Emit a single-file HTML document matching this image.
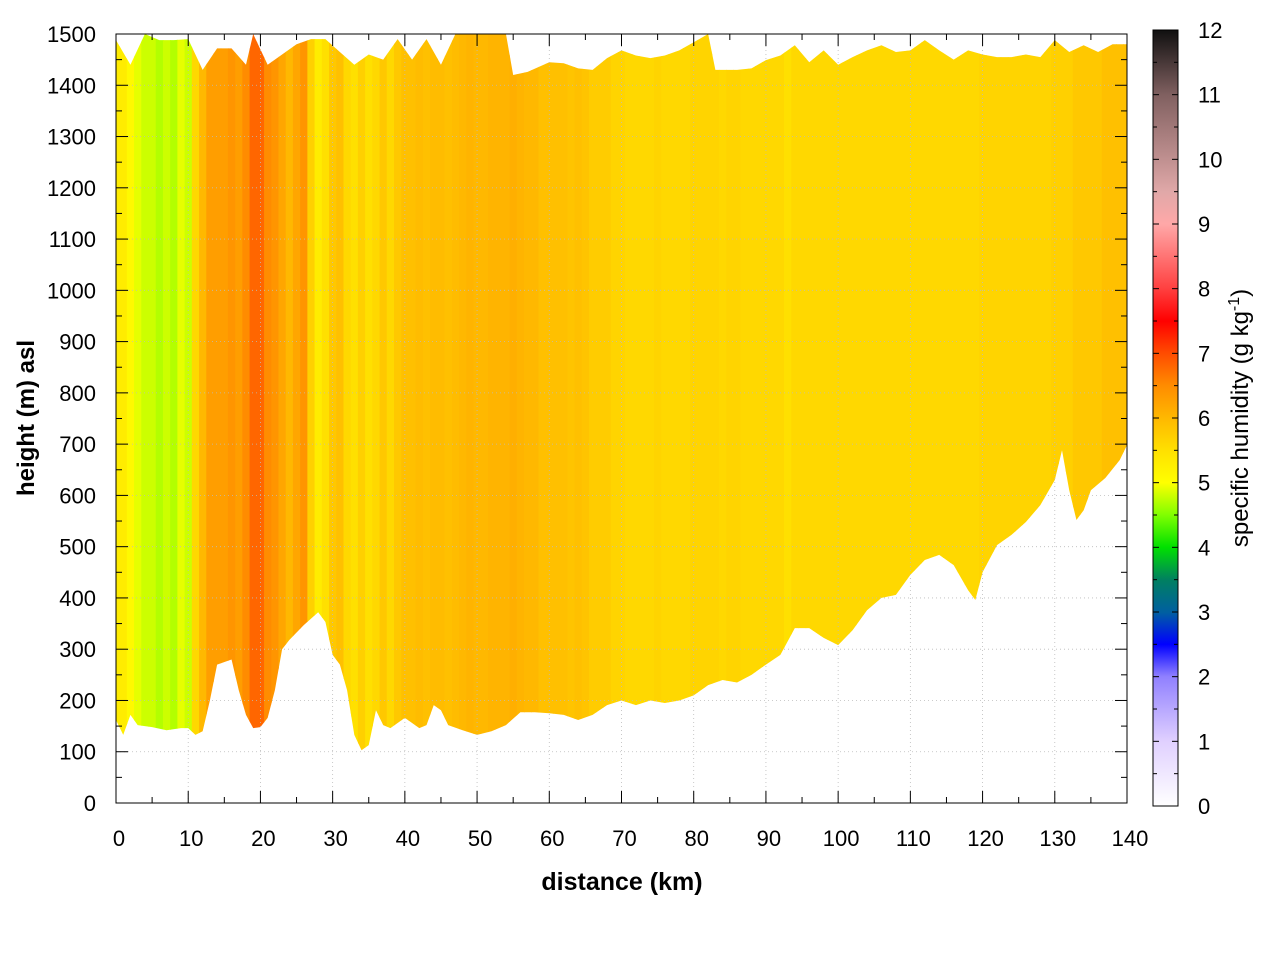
<!DOCTYPE html>
<html><head><meta charset="utf-8"><style>
body{margin:0;background:#fff;font-family:"Liberation Sans",sans-serif}
svg text{font-family:"Liberation Sans",sans-serif}
</style></head><body>
<svg id="chart" width="1280" height="960" xmlns="http://www.w3.org/2000/svg">
<defs>
<clipPath id="dataclip"><polygon id="clipPoly" points=""/></clipPath>
<linearGradient id="cbgrad" x1="0" y1="1" x2="0" y2="0"></linearGradient>
</defs>
<g id="cols" clip-path="url(#dataclip)"></g>
<g id="grid"></g>
<g id="axes"></g>
<text x="622" y="890" text-anchor="middle" font-size="25" font-weight="bold">distance (km)</text>
<text transform="translate(34,418) rotate(-90)" text-anchor="middle" font-size="24" font-weight="bold">height (m) asl</text>
<rect x="1153" y="30" width="25" height="776" fill="url(#cbgrad)" stroke="#000" stroke-width="1"/>
<g id="cbticks"></g>
<text transform="translate(1248,418) rotate(-90)" text-anchor="middle" font-size="24">specific humidity (g kg<tspan dy="-9" font-size="16">-1</tspan><tspan dy="9">)</tspan></text>
</svg>
<script>
// distance (km) of each column and its humidity value (g/kg)
const colDist = [];for(let i=0;i<=140;i++)colDist.push(i);
const colValue = [5.3,5.3,5.1,4.9,4.8,4.8,4.7,4.8,4.7,4.9,4.8,5.6,6.0,6.3,6.3,6.3,6.4,6.3,6.5,6.8,6.8,6.5,6.4,6.2,6.0,6.2,6.4,5.7,5.3,5.5,
5.8,5.9,5.6,5.5,5.7,5.5,5.6,5.8,5.6,5.8,5.9,5.9,5.95,5.9,5.95,5.95,5.9,5.95,6.0,6.05,6.0,6.0,6.05,6.05,6.05,6.1,6.05,6.0,6.0,5.9,
5.9,5.9,5.9,5.85,5.9,5.85,5.75,5.75,5.75,5.65,5.65,5.6,5.6,5.6,5.6,5.65,5.6,5.6,5.6,5.6,5.65,5.65,5.65,5.65,5.6,5.65,5.65,5.6,5.6,5.6,
5.6,5.6,5.6,5.5,5.6,5.6,5.6,5.6,5.6,5.6,5.6,5.6,5.6,5.6,5.6,5.6,5.6,5.6,5.6,5.6,5.6,5.6,5.6,5.6,5.6,5.6,5.6,5.6,5.6,5.6,
5.65,5.65,5.65,5.65,5.65,5.65,5.65,5.65,5.65,5.65,5.7,5.7,5.7,5.8,5.8,5.8,5.8,5.9,5.9,5.9,5.9];
// terrain (bottom boundary) in m
const botDist = [0,1,2,3,5,7,9,10,11,12,13,14,16,17,18,19,20,21,22,23,24,26,28,29,30,31,32,33,34,35,36,37,38,40,42,43,44,45,46,48,50,52,54,56,58,60,62,64,66,68,70,72,74,76,78,80,82,84,86,88,90,92,94,96,98,100,102,104,106,108,110,112,114,116,118,119,120,122,124,126,128,130,131,132,133,134,135,137,139,140];
const botH = [162,133,172,152,148,142,146,146,133,140,200,270,280,220,172,146,148,166,220,300,318,347,372,353,289,270,220,133,103,113,181,152,146,166,146,152,191,181,152,142,133,140,152,177,177,175,172,162,172,191,200,191,200,195,200,210,230,240,235,250,270,289,341,341,322,308,337,376,400,406,445,474,484,464,415,396,450,503,523,548,581,630,688,610,552,571,610,634,669,698];
// top boundary in m
const topDist = [0,2,4,6,8,10,12,14,16,18,19,21,23,25,27,29,31,33,35,37,39,41,43,45,47,50,54,55,57,60,62,64,66,68,70,72,74,76,78,80,82,83,86,88,90,92,94,96,98,100,102,104,106,108,110,112,114,116,118,120,122,124,126,128,130,132,134,136,138,140];
const topH = [1488,1440,1500,1488,1488,1490,1430,1472,1472,1440,1500,1440,1460,1480,1490,1490,1465,1440,1460,1450,1490,1450,1490,1440,1500,1500,1500,1420,1426,1445,1443,1433,1430,1453,1468,1458,1453,1458,1468,1484,1500,1430,1430,1433,1449,1458,1478,1445,1468,1440,1455,1468,1478,1465,1468,1488,1468,1450,1468,1460,1455,1455,1460,1455,1488,1465,1478,1465,1480,1480];
const xTicks=[0,10,20,30,40,50,60,70,80,90,100,110,120,130,140];
const yTicks=[0,100,200,300,400,500,600,700,800,900,1000,1100,1200,1300,1400,1500];
const cbTicks=[0,1,2,3,4,5,6,7,8,9,10,11,12];
const palV=[0,1,2,2.5,3,3.5,4,4.5,5,5.5,6,6.5,7,7.5,8,9,9.5,10,11,12];
const palC=["#ffffff","#e0d0ff","#9080ff","#0000ff","#0060a0","#008060","#00e000","#80ff00","#ffff00","#ffe000","#ffb800","#ff8c00","#ff4c00","#ff0000","#ff4040","#ffa8a8","#e0a8a8","#c09090","#806060","#101010"];
const X0=116,X1=1127,Y0=803,Y1=34;
const sx=d=>X0+(X1-X0)*d/140, sy=h=>Y0-(Y0-Y1)*h/1500;
const NS="http://www.w3.org/2000/svg";
function mk(t,a,p){const e=document.createElementNS(NS,t);for(const k in a)e.setAttribute(k,a[k]);p.appendChild(e);return e;}
function hex(c){return [1,3,5].map(i=>parseInt(c.substr(i,2),16));}
function color(v){for(let i=0;i<palV.length-1;i++){if(v<=palV[i+1]){const t=(v-palV[i])/(palV[i+1]-palV[i]);const a=hex(palC[i]),b=hex(palC[i+1]);return "rgb("+a.map((x,j)=>Math.round(x+(b[j]-x)*t)).join(",")+")";}}return palC[palC.length-1];}
let pts=[];topDist.forEach((d,i)=>pts.push(sx(d)+","+sy(topH[i])));
for(let i=botDist.length-1;i>=0;i--)pts.push(sx(botDist[i])+","+sy(botH[i]));
document.getElementById('clipPoly').setAttribute('points',pts.join(' '));
const cols=document.getElementById('cols');
colDist.forEach((d,i)=>{const a=sx(Math.max(0,d-0.5)),b=sx(Math.min(140,d+0.5));
const r=mk('rect',{x:a,y:Y1,width:b-a+0.6,height:Y0-Y1,fill:color(colValue[i])},cols);

});
const grid=document.getElementById('grid'),axes=document.getElementById('axes');
xTicks.forEach(v=>{if(v>0&&v<140)mk('line',{x1:sx(v),x2:sx(v),y1:Y0,y2:Y1,stroke:"#bbb","stroke-width":0.8,"stroke-dasharray":"1,3"},grid);});
yTicks.forEach(v=>{if(v>0&&v<1500)mk('line',{x1:X0,x2:X1,y1:sy(v),y2:sy(v),stroke:"#bbb","stroke-width":0.8,"stroke-dasharray":"1,3"},grid);});
mk('rect',{x:X0,y:Y1,width:X1-X0,height:Y0-Y1,fill:"none",stroke:"#000","stroke-width":1},axes);
for(let v=0;v<=140;v+=5){const L=v%10?6:12;mk('line',{x1:sx(v),x2:sx(v),y1:Y0,y2:Y0-L,stroke:"#000"},axes);mk('line',{x1:sx(v),x2:sx(v),y1:Y1,y2:Y1+L,stroke:"#000"},axes);}
for(let v=0;v<=1500;v+=50){const L=v%100?6:12;mk('line',{x1:X0,x2:X0+L,y1:sy(v),y2:sy(v),stroke:"#000"},axes);mk('line',{x1:X1,x2:X1-L,y1:sy(v),y2:sy(v),stroke:"#000"},axes);}
xTicks.forEach(v=>{const t=mk('text',{x:sx(v)+3,y:846,"text-anchor":"middle","font-size":22},axes);t.textContent=v;

});
yTicks.forEach(v=>{const t=mk('text',{x:96,y:sy(v)+8,"text-anchor":"end","font-size":22},axes);t.textContent=v;

});
const g=document.getElementById('cbgrad');
palV.forEach((v,i)=>mk('stop',{offset:(v/12),"stop-color":palC[i]},g));
const cb=document.getElementById('cbticks');
const cy=v=>806-776*v/12;
cbTicks.forEach(v=>{mk('line',{x1:1153,x2:1159,y1:cy(v),y2:cy(v),stroke:"#000"},cb);mk('line',{x1:1178,x2:1172,y1:cy(v),y2:cy(v),stroke:"#000"},cb);
if(v<12){mk('line',{x1:1153,x2:1157,y1:cy(v+0.5),y2:cy(v+0.5),stroke:"#000"},cb);mk('line',{x1:1178,x2:1174,y1:cy(v+0.5),y2:cy(v+0.5),stroke:"#000"},cb);}
const t=mk('text',{x:1198,y:cy(v)+8,"font-size":22},cb);t.textContent=v;

});
</script>
</body></html>
